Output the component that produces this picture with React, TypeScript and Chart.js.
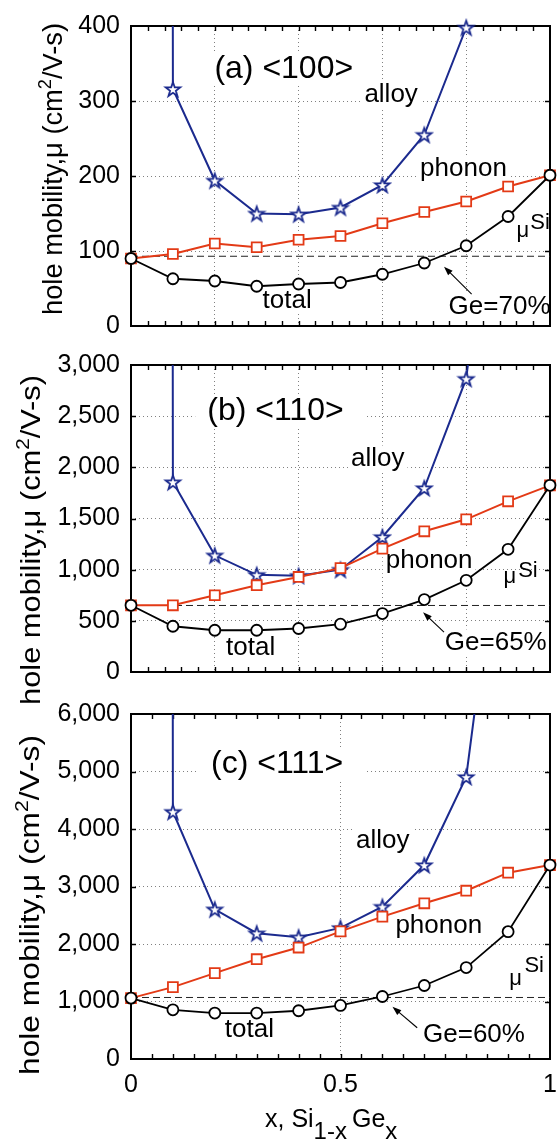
import React, { useEffect, useRef } from 'react';
import { Chart, registerables } from 'chart.js';

Chart.register(...registerables);

const FONT = '"Liberation Sans", Arial, Helvetica, sans-serif';
const BLUE = '#1b2a8e';
const RED = '#e33a16';
const GRID = '#808080';
const W = 559;
const H = 1140;

// ---- data ----
const X_VALUES = [0, 0.1, 0.2, 0.3, 0.4, 0.5, 0.6, 0.7, 0.8, 0.9, 1.0];
const MU_SI_X = [0, 1];

// (a) <100>
const ALLOY_100 = [1e5, 316, 194, 150, 149, 158, 188, 255, 398, 860, null];
const PHONON_100 = [90, 96, 110, 105, 115, 120, 137, 152, 166, 186, 201];
const TOTAL_100 = [90, 63, 60, 53, 56, 58, 69, 84, 107, 146, 201];
const MU_SI_100 = [93, 93];
const Y_TICKS_100 = [0, 100, 200, 300, 400];

// (b) <110>
const ALLOY_110 = [1e6, 1856, 1140, 950, 940, 1000, 1320, 1798, 2866, 6200, null];
const PHONON_110 = [652, 652, 750, 848, 929, 1015, 1206, 1375, 1492, 1668, 1824];
const TOTAL_110 = [652, 447, 408, 408, 425, 467, 571, 708, 896, 1199, 1824];
const MU_SI_110 = [650, 650];
const Y_TICKS_110 = [0, 500, 1000, 1500, 2000, 2500, 3000];

// (c) <111>
const ALLOY_111 = [1e6, 4300, 2604, 2188, 2118, 2280, 2649, 3373, 4906, 10500, null];
const PHONON_111 = [1059, 1250, 1493, 1736, 1938, 2220, 2476, 2708, 2927, 3240, 3373];
const TOTAL_111 = [1059, 856, 799, 799, 839, 931, 1087, 1278, 1590, 2215, 3373];
const MU_SI_111 = [1070, 1070];
const Y_TICKS_111 = [0, 1000, 2000, 3000, 4000, 5000, 6000];

const X_GRID_AB = [0.2, 0.4, 0.6, 0.8];
const X_GRID_C = [0.5];
const X_TICK_LABELS = [0, 0.5, 1];

// ---- layout / annotation config ----
type Seg = { t: string; size: number; dy?: number; gap?: number };
type Ann = { segs: Seg[]; x: number; y: number; box?: [number, number] };
type Panel = {
  key: string;
  top: number;
  bottom: number;
  yTicks: number[];
  alloy: (number | null)[];
  phonon: number[];
  total: number[];
  muSi: number[];
  gridX: number[];
  minorStep: number;
  texts: Ann[];
  arrow: [number, number, number, number];
  yTitle: { x: number; cy: number; len: number };
  xAxis: boolean;
};

const t = (s: string, size = 26): Seg[] => [{ t: s, size }];

const PANELS: Panel[] = [
  {
    key: 'a', top: 19, bottom: 326, yTicks: Y_TICKS_100,
    alloy: ALLOY_100, phonon: PHONON_100, total: TOTAL_100, muSi: MU_SI_100,
    gridX: X_GRID_AB, minorStep: 0.04,
    texts: [
      { segs: t('(a) <100>', 32), x: 0.199, y: 330.8, box: [12, 22] },
      { segs: t('alloy'), x: 0.557, y: 298.2 },
      { segs: t('phonon'), x: 0.69, y: 199.5 },
      { segs: t('total'), x: 0.314, y: 24 },
      { segs: t('μ', 22), x: 0.92, y: 118.3, box: [0, 0] },
      { segs: t('Si', 22), x: 0.953, y: 128.7, box: [0, 0] },
      { segs: t('Ge=70%'), x: 0.758, y: 16.6 },
    ],
    arrow: [0.813, 42.5, 0.747, 79.1],
    yTitle: { x: 61.5, cy: 169, len: 292 },
    xAxis: false,
  },
  {
    key: 'b', top: 365, bottom: 672, yTicks: Y_TICKS_110,
    alloy: ALLOY_110, phonon: PHONON_110, total: TOTAL_110, muSi: MU_SI_110,
    gridX: X_GRID_AB, minorStep: 0.04,
    texts: [
      { segs: t('(b) <110>', 32), x: 0.182, y: 2459, box: [12, 22] },
      { segs: t('alloy'), x: 0.525, y: 2010 },
      { segs: t('phonon'), x: 0.608, y: 1014 },
      { segs: t('total'), x: 0.227, y: 164 },
      { segs: t('μ', 22), x: 0.889, y: 867, box: [0, 0] },
      { segs: t('Si', 22), x: 0.924, y: 926, box: [0, 0] },
      { segs: t('Ge=65%'), x: 0.749, y: 213 },
    ],
    arrow: [0.747, 389, 0.697, 584],
    yTitle: { x: 39.5, cy: 540, len: 330 },
    xAxis: false,
  },
  {
    key: 'c', top: 714, bottom: 1059, yTicks: Y_TICKS_111,
    alloy: ALLOY_111, phonon: PHONON_111, total: TOTAL_111, muSi: MU_SI_111,
    gridX: X_GRID_C, minorStep: 0.05,
    texts: [
      { segs: t('(c) <111>', 32), x: 0.191, y: 4970, box: [12, 22] },
      { segs: t('alloy'), x: 0.537, y: 3668 },
      { segs: t('phonon'), x: 0.631, y: 2193 },
      { segs: t('total'), x: 0.224, y: 387 },
      { segs: t('μ', 22), x: 0.903, y: 1290, box: [0, 0] },
      { segs: t('Si', 22), x: 0.939, y: 1516, box: [0, 0] },
      { segs: t('Ge=60%'), x: 0.697, y: 300 },
    ],
    arrow: [0.683, 543, 0.624, 908],
    yTitle: { x: 39, cy: 905, len: 340 },
    xAxis: true,
  },
];

const Y_TITLE: Seg[] = [
  { t: 'hole mobility,μ (cm', size: 27 },
  { t: '2', size: 18, dy: -11 },
  { t: '/V-s)', size: 27 },
];

const X_TITLE: Seg[] = [
  { t: 'x, Si', size: 25 },
  { t: '1-x', size: 24, dy: 12, gap: 5 },
  { t: 'Ge', size: 25 },
  { t: 'x', size: 24, dy: 12 },
];

// ---- helpers ----
function richWidth(ctx: CanvasRenderingContext2D, segs: Seg[]) {
  let w = 0;
  for (const s of segs) {
    ctx.font = `${s.size}px ${FONT}`;
    w += ctx.measureText(s.t).width + (s.gap || 0);
  }
  return w;
}

function drawRich(ctx: CanvasRenderingContext2D, segs: Seg[], x: number, y: number) {
  let cx = x;
  for (const s of segs) {
    ctx.font = `${s.size}px ${FONT}`;
    ctx.fillText(s.t, cx, y + (s.dy || 0));
    cx += ctx.measureText(s.t).width + (s.gap || 0);
  }
}

function makeStar(color: string): HTMLCanvasElement {
  const c = document.createElement('canvas');
  c.width = 20;
  c.height = 20;
  const g = c.getContext('2d')!;
  const R = 7.6;
  const r = R * 0.4;
  g.beginPath();
  for (let i = 0; i < 10; i++) {
    const a = -Math.PI / 2 + (i * Math.PI) / 5;
    const rad = i % 2 === 0 ? R : r;
    const px = 10 + rad * Math.cos(a);
    const py = 10.8 + rad * Math.sin(a);
    if (i === 0) g.moveTo(px, py);
    else g.lineTo(px, py);
  }
  g.closePath();
  g.fillStyle = '#fff';
  g.fill();
  g.strokeStyle = color;
  g.lineWidth = 1.8;
  g.lineJoin = 'miter';
  g.stroke();
  return c;
}

const TICK = 5;

function decor(p: Panel) {
  return {
    id: 'decor_' + p.key,
    beforeDatasetsDraw(chart: any) {
      const { ctx, chartArea: ca } = chart;
      const xs = chart.scales.x;
      const ys = chart.scales.y;
      ctx.save();
      for (const a of p.texts) {
        const px = xs.getPixelForValue(a.x);
        const py = ys.getPixelForValue(a.y);
        const w = richWidth(ctx, a.segs);
        const size = a.segs[0].size;
        const [pl, pr] = a.box ?? [3, 3];
        if (pl === 0 && pr === 0) continue;
        ctx.fillStyle = '#fff';
        ctx.fillRect(px - pl, py - size * 0.8, w + pl + pr, size * 1.02);
      }
      ctx.strokeStyle = '#000';
      ctx.lineWidth = 2;
      ctx.strokeRect(ca.left, ca.top, ca.right - ca.left, ca.bottom - ca.top);
      ctx.lineWidth = 1.4;
      ctx.beginPath();
      const n = Math.round(1 / p.minorStep);
      for (let i = 1; i < n; i++) {
        const x = Math.round(xs.getPixelForValue(i * p.minorStep)) + 0.5;
        ctx.moveTo(x, ca.bottom);
        ctx.lineTo(x, ca.bottom - TICK);
        ctx.moveTo(x, ca.top);
        ctx.lineTo(x, ca.top + TICK);
      }
      for (const v of p.yTicks.slice(1, -1)) {
        const y = Math.round(ys.getPixelForValue(v)) + 0.5;
        ctx.moveTo(ca.left, y);
        ctx.lineTo(ca.left + TICK, y);
        ctx.moveTo(ca.right, y);
        ctx.lineTo(ca.right - TICK, y);
      }
      ctx.stroke();
      ctx.fillStyle = '#000';
      ctx.textAlign = 'left';
      ctx.textBaseline = 'alphabetic';
      for (const a of p.texts) {
        drawRich(ctx, a.segs, xs.getPixelForValue(a.x), ys.getPixelForValue(a.y));
      }
      ctx.restore();
    },
    afterDatasetsDraw(chart: any) {
      const { ctx } = chart;
      const xs = chart.scales.x;
      const ys = chart.scales.y;
      const [x0, y0, x1, y1] = p.arrow;
      const ax = xs.getPixelForValue(x0);
      const ay = ys.getPixelForValue(y0);
      const bx = xs.getPixelForValue(x1);
      const by = ys.getPixelForValue(y1);
      const ang = Math.atan2(by - ay, bx - ax);
      ctx.save();
      ctx.strokeStyle = '#000';
      ctx.fillStyle = '#000';
      ctx.lineWidth = 1.1;
      ctx.beginPath();
      ctx.moveTo(ax, ay);
      ctx.lineTo(bx - 6 * Math.cos(ang), by - 6 * Math.sin(ang));
      ctx.stroke();
      const L = 9;
      const hw = 3.2;
      ctx.beginPath();
      ctx.moveTo(bx, by);
      ctx.lineTo(bx - L * Math.cos(ang) + hw * Math.sin(ang), by - L * Math.sin(ang) - hw * Math.cos(ang));
      ctx.lineTo(bx - L * Math.cos(ang) - hw * Math.sin(ang), by - L * Math.sin(ang) + hw * Math.cos(ang));
      ctx.closePath();
      ctx.fill();
      ctx.restore();
    },
    afterDraw(chart: any) {
      const { ctx } = chart;
      const xs = chart.scales.x;
      ctx.save();
      ctx.fillStyle = '#000';
      ctx.textBaseline = 'alphabetic';
      ctx.textAlign = 'left';
      const wNat = richWidth(ctx, Y_TITLE);
      const s = p.yTitle.len / wNat;
      ctx.translate(p.yTitle.x, p.yTitle.cy);
      ctx.rotate(-Math.PI / 2);
      ctx.scale(s, 1);
      drawRich(ctx, Y_TITLE, -wNat / 2, 0);
      ctx.setTransform(1, 0, 0, 1, 0, 0);
      if (p.xAxis) {
        ctx.textAlign = 'center';
        ctx.font = `25px ${FONT}`;
        for (const v of X_TICK_LABELS) {
          ctx.fillText(String(v), xs.getPixelForValue(v), 1092);
        }
        ctx.textAlign = 'left';
        drawRich(ctx, X_TITLE, 265, 1127);
      }
      ctx.restore();
    },
  };
}

function buildChart(canvas: HTMLCanvasElement, p: Panel) {
  const pts = (ys: (number | null)[]) => X_VALUES.map((x, i) => ({ x, y: ys[i] }));
  const star = makeStar(BLUE);
  const xHeight = H - p.bottom;
  return new Chart(canvas, {
    type: 'line',
    data: {
      datasets: [
        {
          label: 'total', data: pts(p.total), borderColor: '#000', borderWidth: 1.8,
          pointStyle: 'circle', pointRadius: 5.5, pointBorderWidth: 1.8,
          pointBackgroundColor: '#fff', pointBorderColor: '#000', clip: false,
        },
        {
          label: 'phonon', data: pts(p.phonon), borderColor: RED, borderWidth: 2,
          pointStyle: 'rect', pointRadius: 7, pointBorderWidth: 1.8,
          pointBackgroundColor: '#fff', pointBorderColor: RED, clip: false,
        },
        {
          label: 'alloy markers', data: pts(p.alloy), showLine: false,
          pointStyle: star as any, pointRadius: 8, clip: false,
        },
        {
          label: 'alloy', data: pts(p.alloy), borderColor: BLUE, borderWidth: 2, pointRadius: 0,
        },
        {
          label: 'mu Si', data: MU_SI_X.map((x, i) => ({ x, y: p.muSi[i] })),
          borderColor: '#222', borderWidth: 1, borderDash: [7, 4], pointRadius: 0,
        },
      ] as any,
    },
    options: {
      animation: false,
      responsive: false,
      devicePixelRatio: 1,
      events: [],
      layout: { padding: { top: p.top, right: 5, left: 0, bottom: 0 } },
      plugins: { legend: { display: false }, tooltip: { enabled: false } },
      scales: {
        x: {
          type: 'linear', min: 0, max: 1,
          afterBuildTicks: (s: any) => { s.ticks = p.gridX.map((v) => ({ value: v })); },
          ticks: { display: false },
          grid: { color: GRID, lineWidth: 1, drawTicks: false },
          border: { display: false, dash: [1, 3] },
          afterFit: (s: any) => { s.height = xHeight; },
        },
        y: {
          type: 'linear', min: p.yTicks[0], max: p.yTicks[p.yTicks.length - 1],
          afterBuildTicks: (s: any) => { s.ticks = p.yTicks.map((v) => ({ value: v })); },
          ticks: {
            font: { family: FONT, size: 25 }, color: '#000', padding: 11,
            callback: (v: any) => Number(v).toLocaleString('en-US'),
          },
          grid: { color: GRID, lineWidth: 1, drawTicks: false },
          border: { display: false, dash: [1, 3] },
          afterFit: (s: any) => { s.width = 131; },
        },
      },
    } as any,
    plugins: [decor(p)],
  });
}

export default function App() {
  const canvases = useRef<(HTMLCanvasElement | null)[]>([]);
  useEffect(() => {
    const charts = PANELS.map((p, i) => buildChart(canvases.current[i]!, p));
    return () => charts.forEach((c) => c.destroy());
  }, []);
  return (
    <div style={{ position: 'absolute', left: 0, top: 0, width: W, height: H, background: '#fff', overflow: 'hidden' }}>
      {PANELS.map((p, i) => (
        <canvas
          key={p.key}
          ref={(el) => { canvases.current[i] = el; }}
          width={W}
          height={H}
          style={{ position: 'absolute', left: 0, top: 0, width: W, height: H }}
        />
      ))}
    </div>
  );
}
